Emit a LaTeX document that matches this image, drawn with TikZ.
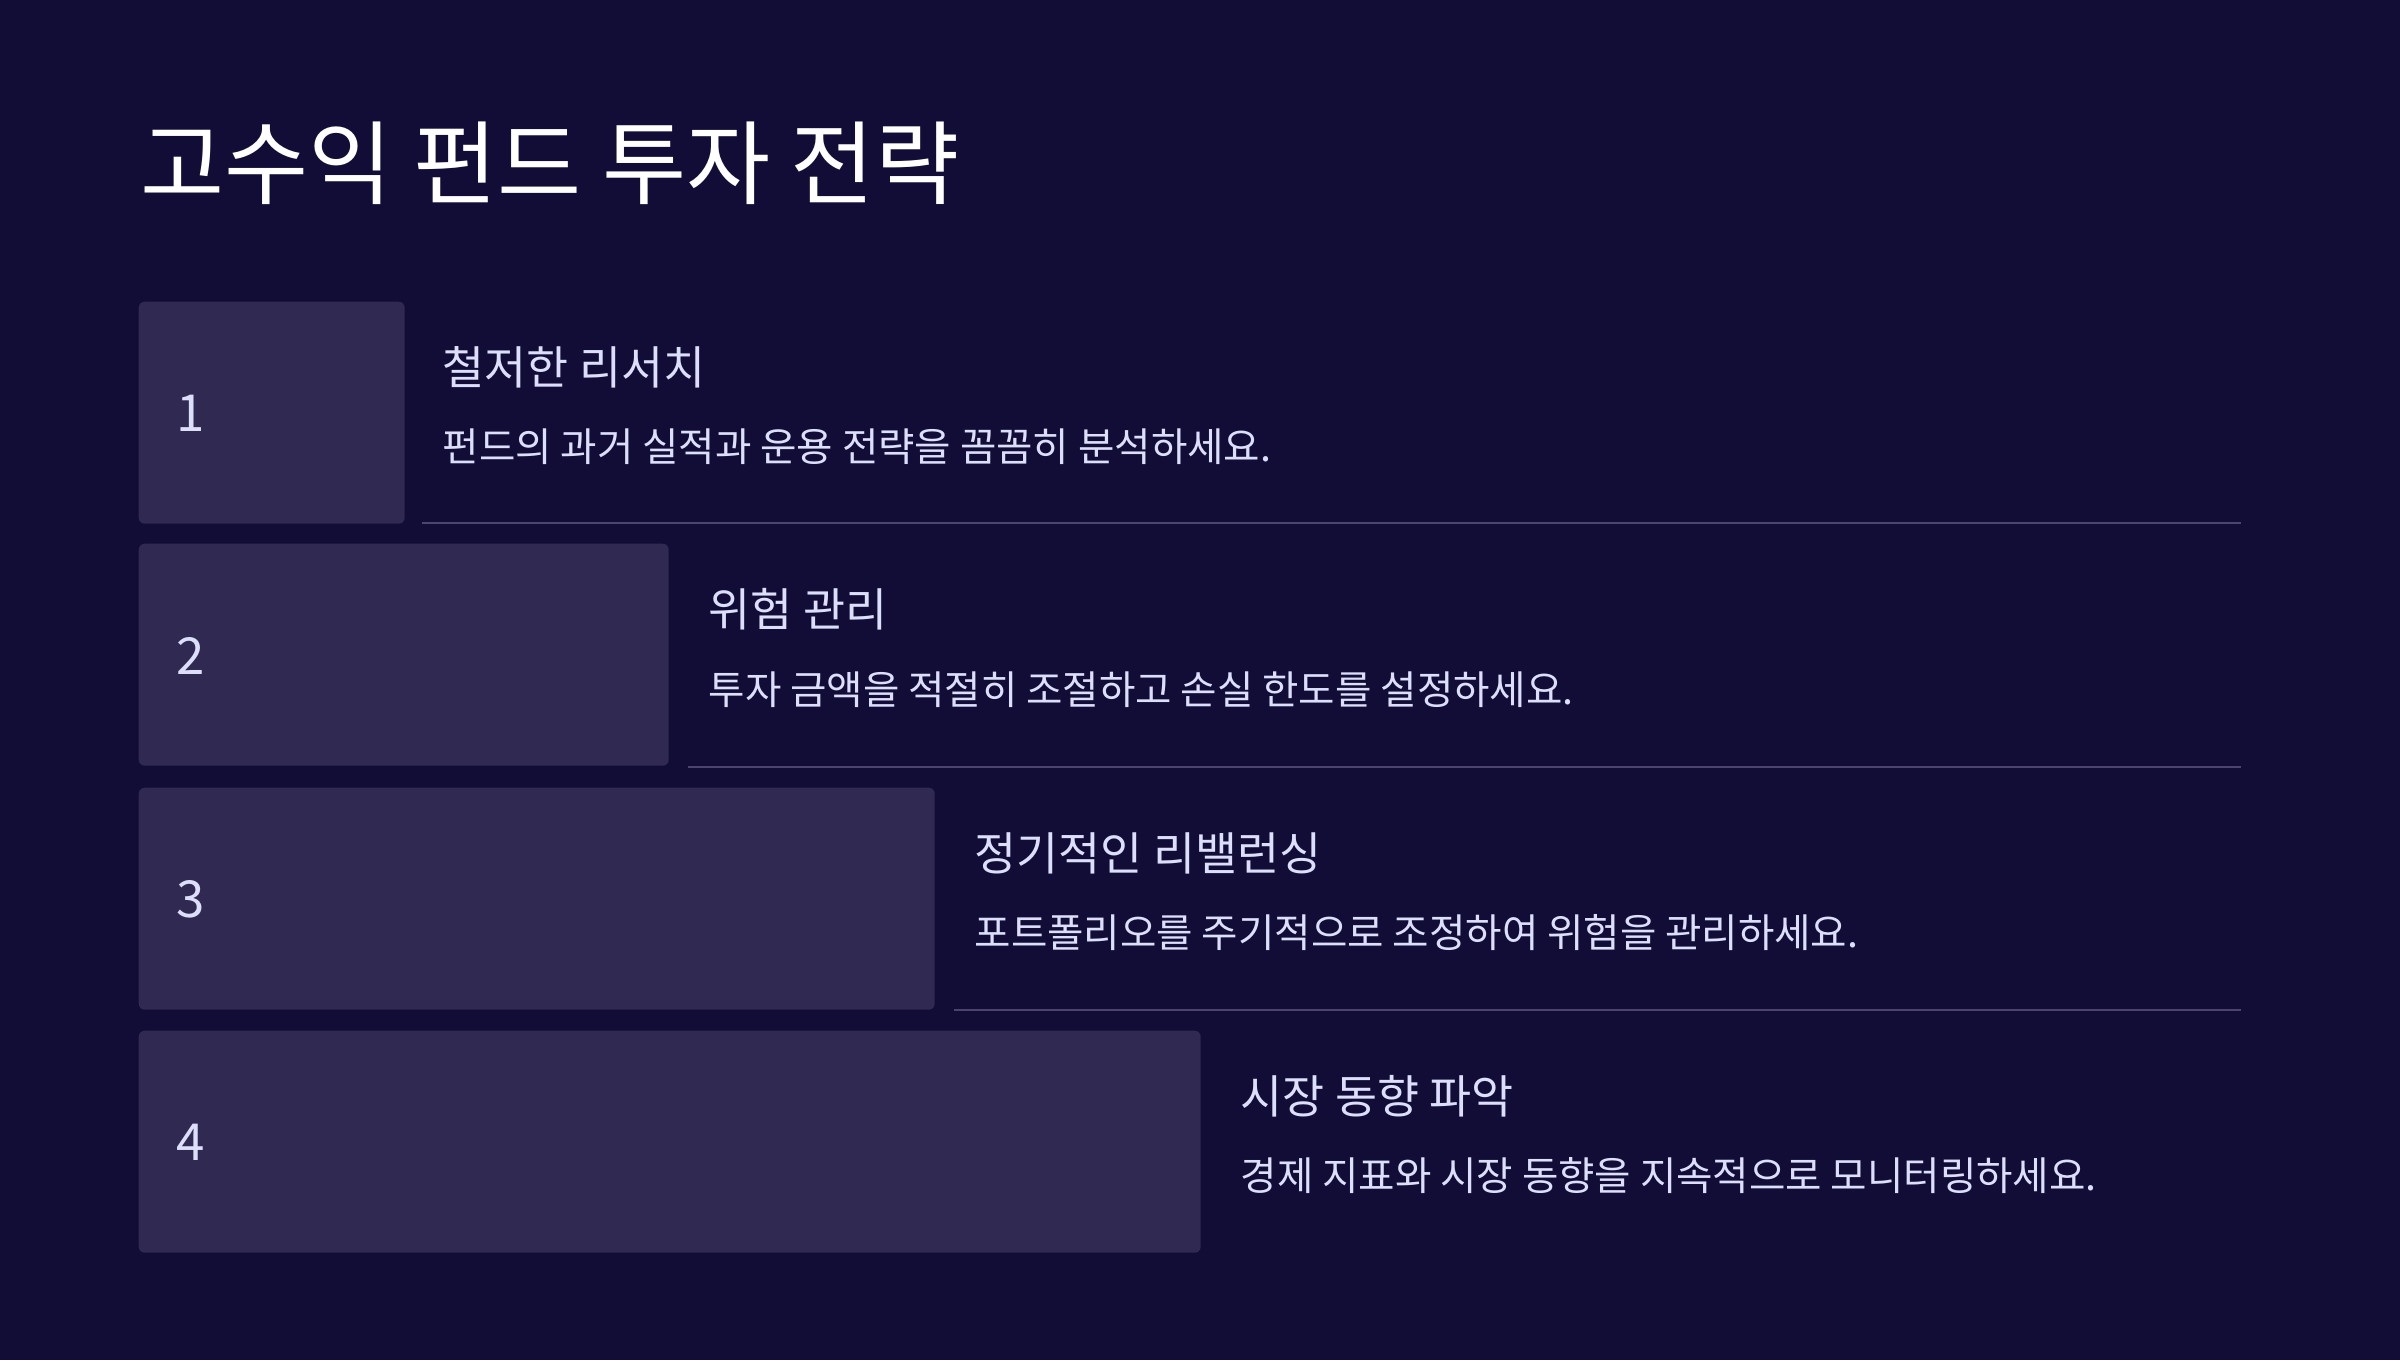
\documentclass[tikz,border=0pt]{standalone}
\usepackage{fontspec}
\setmainfont{Noto Sans CJK KR}
\definecolor{bgc}{HTML}{110D36}
\definecolor{boxc}{HTML}{302A52}
\definecolor{linec}{HTML}{4A446E}
\definecolor{txtc}{HTML}{DDDEFA}
\tikzset{
  stepbox/.style={fill=boxc, draw=none, rounded corners=6*0.01cm, anchor=north west, inner sep=0, minimum height=222*0.01cm},
  numtext/.style={anchor=west, inner sep=0, text=txtc, font=\fontsize{14.5}{18}\selectfont},
  headtext/.style={anchor=west, inner sep=0, text=txtc, font=\fontsize{13}{16}\selectfont},
  desctext/.style={anchor=west, inner sep=0, text=txtc, font=\fontsize{11.25}{14}\selectfont},
  sepline/.style={draw=linec, line width=2*0.01cm},
}
\begin{document}
\begin{tikzpicture}[x=0.01cm,y=-0.01cm]
\fill[bgc] (0,0) rectangle (2400,1360);
\useasboundingbox (0,0) rectangle (2400,1360);
\node[anchor=west, inner sep=0, text=white, font=\fontsize{26}{30}\selectfont] (title) at (140,163) {고수익 펀드 투자 전략};

\node[stepbox, minimum width=266*0.01cm] (b1) at (138,301) {};
\node[stepbox, minimum width=530*0.01cm] (b2) at (138,543) {};
\node[stepbox, minimum width=796*0.01cm] (b3) at (138,787) {};
\node[stepbox, minimum width=1062*0.01cm] (b4) at (138,1030) {};

\node[numtext] (n1) at (176,413) {1};
\node[numtext] (n2) at (176,656) {2};
\node[numtext] (n3) at (176,899) {3};
\node[numtext] (n4) at (176,1142) {4};

\node[headtext] (h1) at (442,367) {철저한 리서치};
\node[desctext] (d1) at (442,447) {펀드의 과거 실적과 운용 전략을 꼼꼼히 분석하세요.};
\node[headtext] (h2) at (708,609) {위험 관리};
\node[desctext] (d2) at (708,690) {투자 금액을 적절히 조절하고 손실 한도를 설정하세요.};
\node[headtext] (h3) at (974,853) {정기적인 리밸런싱};
\node[desctext] (d3) at (974,933) {포트폴리오를 주기적으로 조정하여 위험을 관리하세요.};
\node[headtext] (h4) at (1240,1096) {시장 동향 파악};
\node[desctext] (d4) at (1240,1176) {경제 지표와 시장 동향을 지속적으로 모니터링하세요.};

\coordinate (s1) at (422,523); \coordinate (e1) at (2241,523);
\coordinate (s2) at (688,767); \coordinate (e2) at (2241,767);
\coordinate (s3) at (954,1010); \coordinate (e3) at (2241,1010);
\draw[sepline] (s1) -- (e1);
\draw[sepline] (s2) -- (e2);
\draw[sepline] (s3) -- (e3);
\end{tikzpicture}
\end{document}
